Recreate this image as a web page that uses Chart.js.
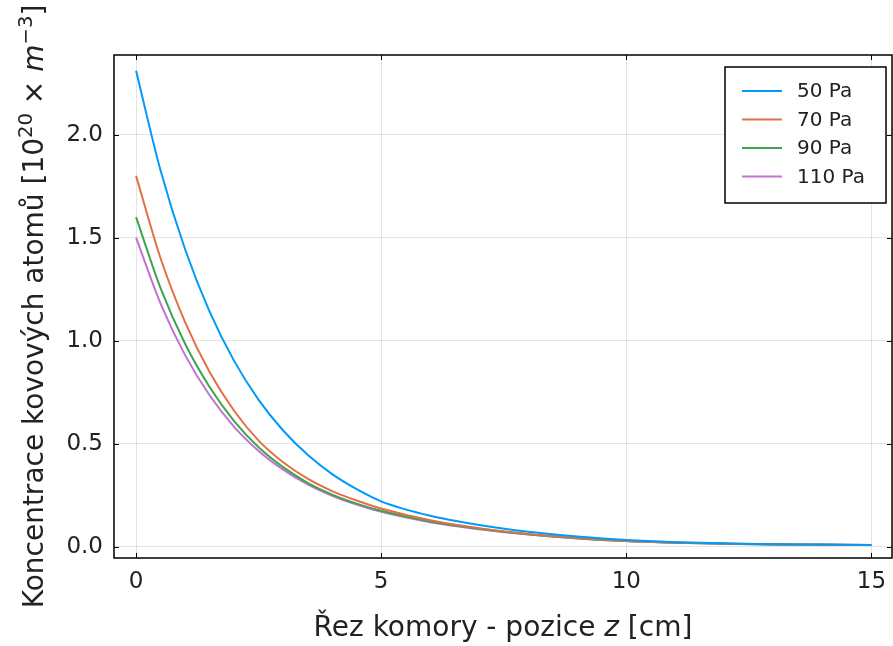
<!DOCTYPE html>
<html>
<head>
<meta charset="utf-8">
<title>Koncentrace kovových atomů</title>
<script src="https://cdn.jsdelivr.net/npm/chart.js@4.4.1/dist/chart.umd.min.js"></script>
<style>
  html, body { margin: 0; padding: 0; background: #fff; }
  #wrap { width: 893px; height: 646px; }
</style>
</head>
<body>
<div id="wrap"><canvas id="chart" width="893" height="646"></canvas></div>
<script>
// position along the chamber [cm]
const positions = [0, 0.5, 1, 1.5, 2, 2.5, 3, 3.5, 4, 4.5, 5, 6, 7, 8, 9, 10, 11, 12, 13, 14, 15];
// metal atom concentration [1e20 m^-3] for each pressure
const pa50  = [2.31, 1.826, 1.444, 1.141, 0.902, 0.713, 0.564, 0.446, 0.352, 0.279, 0.220, 0.150, 0.105, 0.072, 0.049, 0.032, 0.022, 0.016, 0.012, 0.010, 0.008];
const pa70  = [1.80, 1.40, 1.09, 0.848, 0.660, 0.515, 0.410, 0.330, 0.270, 0.224, 0.185, 0.128, 0.090, 0.062, 0.042, 0.028, 0.020, 0.015, 0.012, 0.010, 0.008];
const pa90  = [1.60, 1.255, 0.985, 0.775, 0.610, 0.483, 0.386, 0.310, 0.253, 0.209, 0.174, 0.122, 0.087, 0.060, 0.041, 0.027, 0.019, 0.014, 0.011, 0.009, 0.008];
const pa110 = [1.50, 1.18, 0.93, 0.735, 0.582, 0.465, 0.374, 0.302, 0.247, 0.204, 0.169, 0.119, 0.085, 0.059, 0.040, 0.027, 0.019, 0.014, 0.011, 0.009, 0.008];

const seriesLabels = ['50 Pa', '70 Pa', '90 Pa', '110 Pa'];
const seriesValues = [pa50, pa70, pa90, pa110];
const seriesColors = ['#009AFA', '#E36F47', '#3EA44E', '#C371D2'];

const xTicks = [0, 5, 10, 15];
const yTicks = [0, 0.5, 1.0, 1.5, 2.0];

const FONT = "'DejaVu Sans', sans-serif";
Chart.defaults.font.family = FONT;

// draw a line of text made of plain / italic / superscript pieces
function drawRich(ctx, parts, x, y, size, angle) {
  ctx.save();
  ctx.translate(x, y);
  ctx.rotate(angle);
  ctx.textBaseline = 'alphabetic';
  ctx.textAlign = 'left';
  const fontOf = p => (p.it ? 'italic ' : '') + (p.sup ? size * 0.7 : size) + 'px ' + FONT;
  let total = 0;
  const widths = parts.map(p => { ctx.font = fontOf(p); const w = ctx.measureText(p.t).width; total += w; return w; });
  let cx = -total / 2;
  parts.forEach((p, i) => {
    ctx.font = fontOf(p);
    ctx.fillText(p.t, cx, p.sup ? -size * 0.4 : 0);
    cx += widths[i];
  });
  ctx.restore();
}

// box frame, inward ticks, legend and axis titles
const decorations = {
  id: 'decorations',
  afterDraw(chart) {
    const ctx = chart.ctx;
    const a = chart.chartArea;
    const sx = chart.scales.x, sy = chart.scales.y;
    ctx.save();
    ctx.strokeStyle = '#000';
    ctx.lineWidth = 1.5;
    ctx.strokeRect(a.left, a.top, a.right - a.left, a.bottom - a.top);

    ctx.lineWidth = 1;
    ctx.beginPath();
    const tl = 5;
    xTicks.forEach(v => {
      const px = Math.round(sx.getPixelForValue(v)) + 0.5;
      ctx.moveTo(px, a.bottom); ctx.lineTo(px, a.bottom - tl);
      ctx.moveTo(px, a.top); ctx.lineTo(px, a.top + tl);
    });
    yTicks.forEach(v => {
      const py = Math.round(sy.getPixelForValue(v)) + 0.5;
      ctx.moveTo(a.left, py); ctx.lineTo(a.left + tl, py);
      ctx.moveTo(a.right, py); ctx.lineTo(a.right - tl, py);
    });
    ctx.stroke();

    // legend
    const bw = 161, bh = 136;
    const bx = a.right - 6 - bw, by = a.top + 12;
    ctx.fillStyle = '#fff';
    ctx.fillRect(bx, by, bw, bh);
    ctx.strokeStyle = '#000';
    ctx.lineWidth = 1.5;
    ctx.strokeRect(bx, by, bw, bh);
    ctx.font = '20px ' + FONT;
    ctx.textBaseline = 'middle';
    ctx.textAlign = 'left';
    chart.data.datasets.forEach((ds, i) => {
      const ry = by + 24 + i * 28.5;
      ctx.strokeStyle = ds.borderColor;
      ctx.lineWidth = 2;
      ctx.beginPath();
      ctx.moveTo(bx + 17, ry); ctx.lineTo(bx + 57, ry);
      ctx.stroke();
      ctx.fillStyle = '#222';
      ctx.fillText(ds.label, bx + 72, ry + 1);
    });

    // axis titles
    ctx.fillStyle = '#222';
    drawRich(ctx, [{ t: 'Řez komory - pozice ' }, { t: 'z', it: true }, { t: ' [cm]' }],
      (a.left + a.right) / 2, 636, 28, 0);
    drawRich(ctx, [
      { t: 'Koncentrace kovových atomů [10' }, { t: '20', sup: true },
      { t: ' × ' }, { t: 'm', it: true }, { t: '−3', sup: true }, { t: ']' }
    ], 43, (a.top + a.bottom) / 2, 28, -Math.PI / 2);
    ctx.restore();
  }
};

const datasets = seriesValues.map((vals, i) => ({
  label: seriesLabels[i],
  data: positions.map((p, j) => ({ x: p, y: vals[j] })),
  borderColor: seriesColors[i],
  backgroundColor: seriesColors[i],
  borderWidth: 2,
  pointRadius: 0,
  fill: false,
  cubicInterpolationMode: 'monotone'
}));

new Chart(document.getElementById('chart'), {
  type: 'line',
  data: { datasets },
  options: {
    responsive: false,
    animation: false,
    layout: { padding: { top: 55, right: 1, left: 0, bottom: 0 } },
    plugins: { legend: { display: false }, tooltip: { enabled: false } },
    scales: {
      x: {
        type: 'linear',
        min: -0.45,
        max: 15.42,
        afterBuildTicks: s => { s.ticks = xTicks.map(v => ({ value: v })); },
        // fixed height; the last label fits without extra right padding
        afterFit: s => { s.height = 88; s.paddingLeft = 0; s.paddingRight = 0; },
        grid: { color: 'rgba(0,0,0,0.1)', drawTicks: false },
        border: { display: false },
        ticks: { padding: 10, color: '#222', font: { size: 23 }, maxRotation: 0, autoSkip: false, callback: v => String(v) }
      },
      y: {
        type: 'linear',
        min: -0.055,
        max: 2.387,
        afterBuildTicks: s => { s.ticks = yTicks.map(v => ({ value: v })); },
        afterFit: s => { s.width = 114; },
        grid: { color: 'rgba(0,0,0,0.1)', drawTicks: false },
        border: { display: false },
        ticks: { padding: 11, color: '#222', font: { size: 23 }, callback: v => v.toFixed(1) }
      }
    }
  },
  plugins: [decorations]
});
</script>
</body>
</html>
